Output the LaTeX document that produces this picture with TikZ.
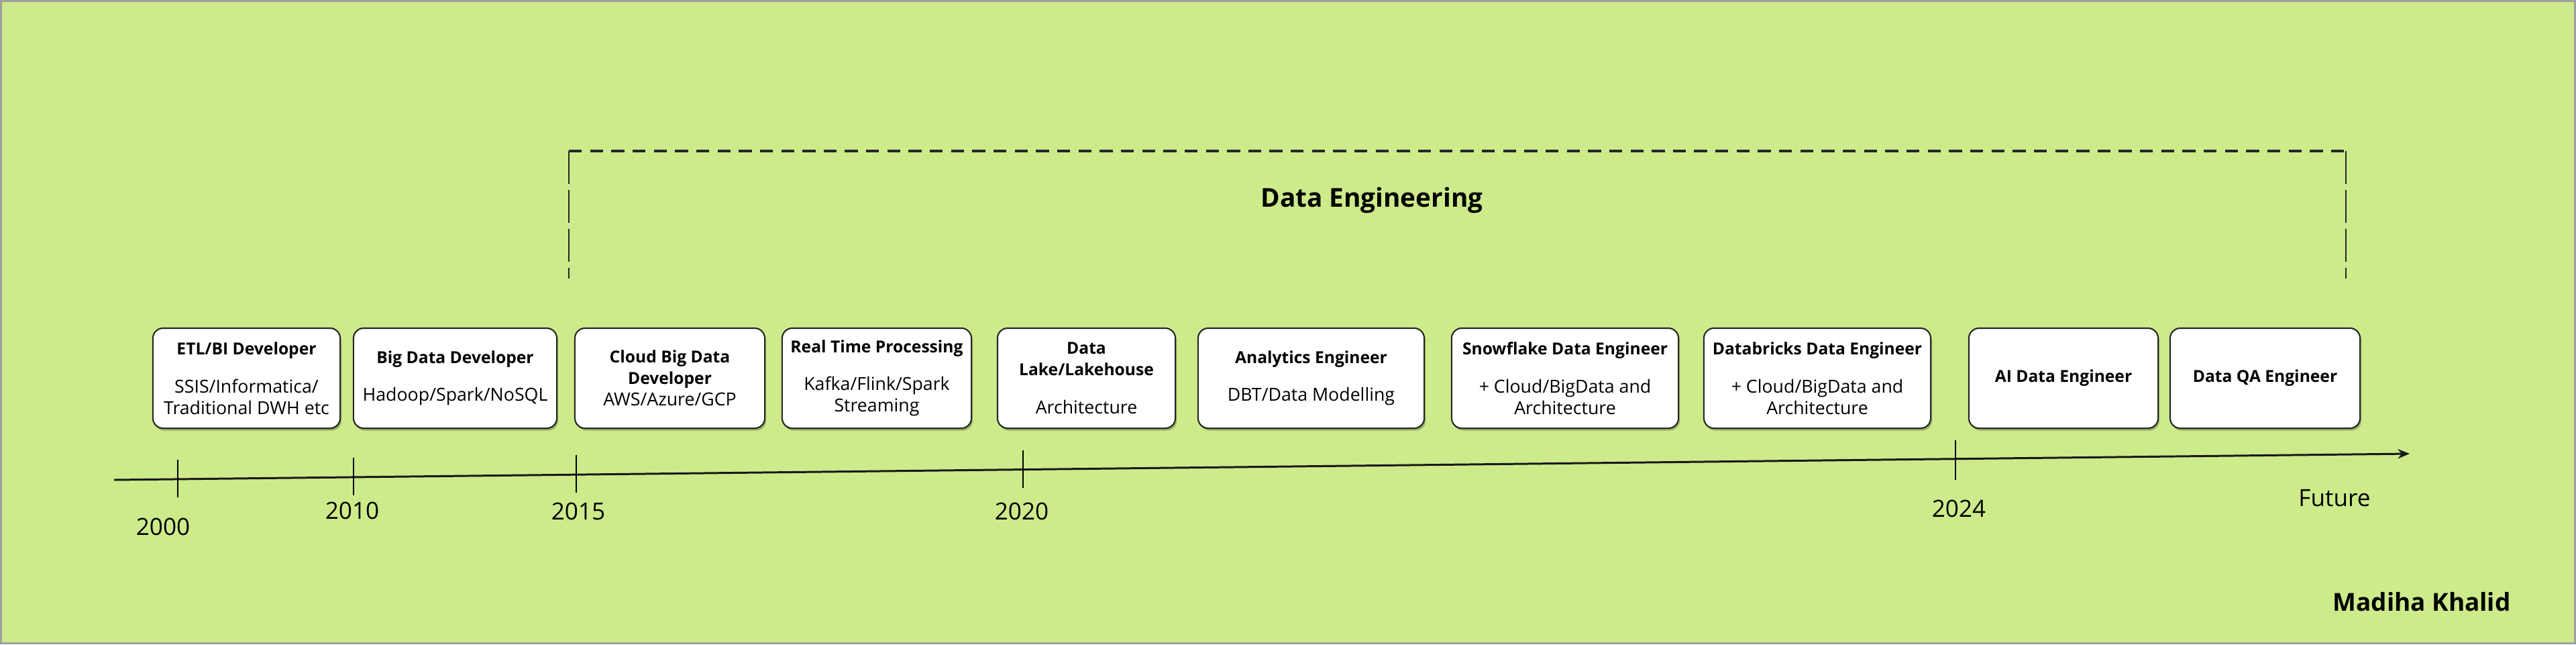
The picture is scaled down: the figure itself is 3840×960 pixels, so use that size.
\documentclass[tikz,border=0pt]{standalone}
\usepackage{fontspec}
\setmainfont{Open Sans}
\usetikzlibrary{calc,shadows,arrows.meta}
\definecolor{bgc}{HTML}{CDEB8B}
\newcommand{\boxtitle}[1]{{\fontsize{7}{9.1}\selectfont\bfseries #1}}
\begin{document}
\begin{tikzpicture}[x=0.01cm,y=-0.01cm,
  box/.style={draw=black!85, line width=0.6pt, fill=white, rounded corners=4.3pt,
    minimum height=1.49cm, inner sep=0pt, align=center,
    font=\fontsize{7.6}{9.1}\selectfont,
    drop shadow={shadow xshift=0.6pt, shadow yshift=-1pt, opacity=0.25, fill=black}},
  tline/.style={draw=black!90, line width=0.85pt},
  tick/.style={draw=black, line width=0.55pt},
  year/.style={font=\fontsize{10}{12}\selectfont, inner sep=0pt},
  bracket/.style={draw=black!85, line width=1pt, dash pattern=on 5.5pt off 3.5pt},
  bracketside/.style={draw=black!85, line width=0.5pt, dash pattern=on 14pt off 2.5pt},
]
% background and frame
\fill[bgc] (0,0) rectangle (3840,960);
\draw[gray!75, line width=0.8pt] (1.5,1.5) rectangle (3838.5,958.5);
\useasboundingbox (0,0) rectangle (3840,960);

% Data Engineering bracket
\coordinate (bl) at (848,415);
\coordinate (tlc) at (848,225);
\coordinate (trc) at (3497,225);
\coordinate (br) at (3497,415);
\draw[bracket] (tlc) -- (trc);
\draw[bracketside] (tlc) -- (bl);
\draw[bracketside] (trc) -- (br);
\node[font=\fontsize{11}{13}\selectfont\bfseries, inner sep=0pt] (de) at (2045,298) {Data Engineering};

% boxes
\node[box, minimum width=2.79cm] (b1) at (367.5,563.5) {\boxtitle{ETL/BI Developer}\\[7pt]SSIS/Informatica/\\Traditional DWH etc};
\node[box, minimum width=3.03cm] (b2) at (678.5,563.5) {\boxtitle{Big Data Developer}\\[7pt]Hadoop/Spark/NoSQL};
\node[box, minimum width=2.83cm] (b3) at (998.5,563.5) {\boxtitle{Cloud Big Data}\\\boxtitle{Developer}\\AWS/Azure/GCP};
\node[box, minimum width=2.82cm] (b4) at (1307,563.5) {\boxtitle{Real Time Processing}\\[7pt]Kafka/Flink/Spark\\Streaming};
\node[box, minimum width=2.65cm] (b5) at (1619.5,563.5) {\boxtitle{Data}\\\boxtitle{Lake/Lakehouse}\\[7pt]Architecture};
\node[box, minimum width=3.37cm] (b6) at (1954.5,563.5) {\boxtitle{Analytics Engineer}\\[7pt]DBT/Data Modelling};
\node[box, minimum width=3.38cm] (b7) at (2333,563.5) {\boxtitle{Snowflake Data Engineer}\\[7pt]+ Cloud/BigData and\\Architecture};
\node[box, minimum width=3.38cm] (b8) at (2709,563.5) {\boxtitle{Databricks Data Engineer}\\[7pt]+ Cloud/BigData and\\Architecture};
\node[box, minimum width=2.82cm] (b9) at (3076,563.5) {\boxtitle{AI Data Engineer}};
\node[box, minimum width=2.83cm] (b10) at (3376.5,563.5) {\boxtitle{Data QA Engineer}};

% timeline
\coordinate (t0) at (170,715);
\coordinate (t1) at (3592,676);
\draw[tline, -{Stealth[length=5pt,width=4pt]}] (t0) -- (t1);
\coordinate (p2000) at ($(t0)!0.0278!(t1)$);
\coordinate (p2010) at ($(t0)!0.1043!(t1)$);
\coordinate (p2015) at ($(t0)!0.2013!(t1)$);
\coordinate (p2020) at ($(t0)!0.3960!(t1)$);
\coordinate (p2024) at ($(t0)!0.8021!(t1)$);
\foreach \p in {p2000,p2010,p2015,p2020} {
  \draw[tick] ($(\p)+(0,-29)$) -- ($(\p)+(0,27)$);
}
\draw[tick] ($(p2024)+(0,-28)$) -- ($(p2024)+(0,31)$);

\node[year] (y2000) at (243,785) {2000};
\node[year] (y2010) at (525,761) {2010};
\node[year] (y2015) at (862,762) {2015};
\node[year] (y2020) at (1523,762) {2020};
\node[year] (y2024) at (2920,758) {2024};
\node[year] (yfut) at (3480,742) {Future};

% author
\node[font=\fontsize{10.5}{12}\selectfont\bfseries, inner sep=0pt] (auth) at (3610,897) {Madiha Khalid};
\end{tikzpicture}
\end{document}
